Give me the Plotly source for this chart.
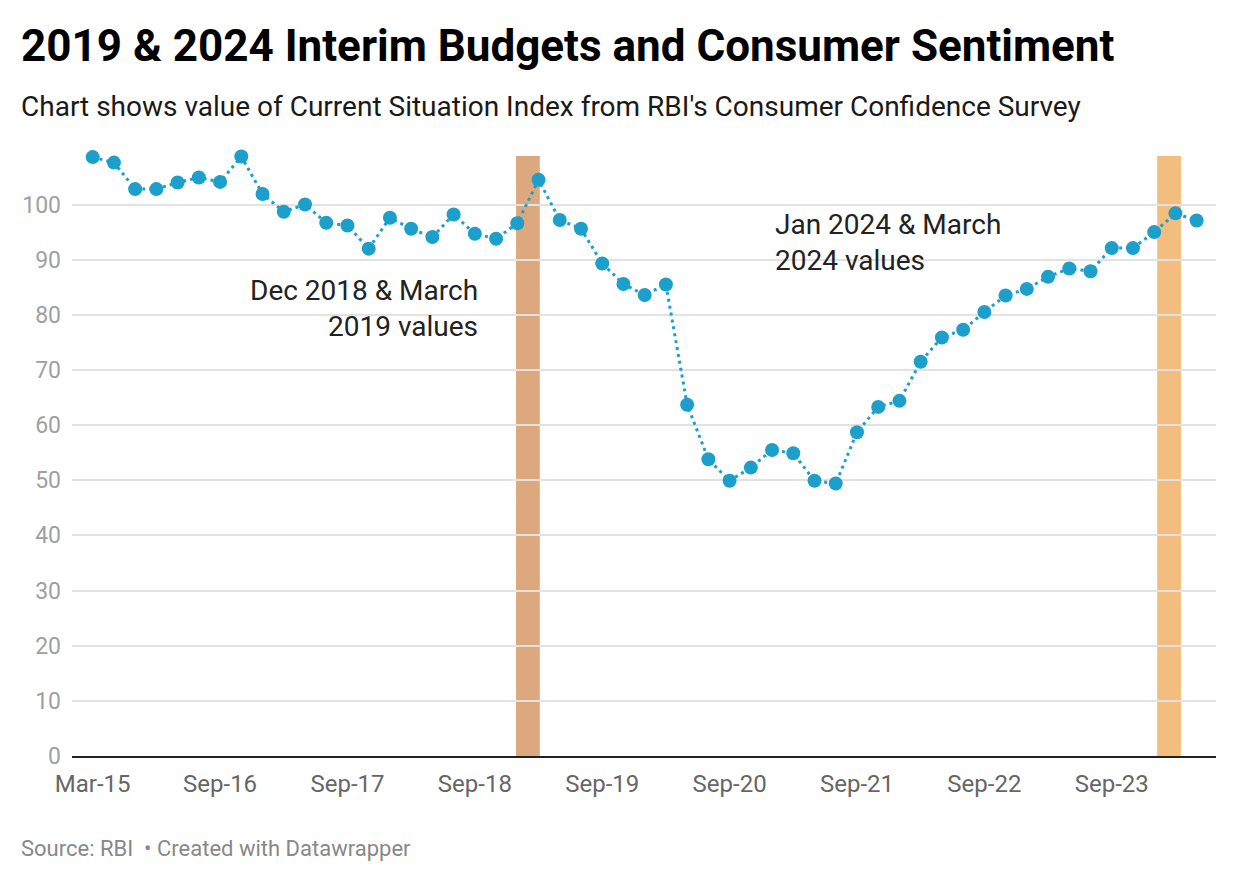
import plotly.graph_objects as go

# Survey rounds (RBI Consumer Confidence Survey)
periods = [
    "Mar-15", "Jun-15", "Sep-15", "Dec-15", "Mar-16", "Jun-16", "Sep-16",
    "Nov-16", "Jan-17", "Mar-17", "May-17", "Jul-17", "Sep-17",
    "Nov-17", "Jan-18", "Mar-18", "May-18", "Jul-18", "Sep-18",
    "Nov-18", "Dec-18", "Mar-19", "May-19", "Jul-19", "Sep-19",
    "Nov-19", "Jan-20", "Mar-20", "May-20", "Jul-20", "Sep-20",
    "Nov-20", "Jan-21", "Mar-21", "May-21", "Jul-21", "Sep-21",
    "Nov-21", "Jan-22", "Mar-22", "May-22", "Jul-22", "Sep-22",
    "Nov-22", "Jan-23", "Mar-23", "May-23", "Jul-23", "Sep-23",
    "Nov-23", "Jan-24", "Mar-24", "May-24",
]

# Current Situation Index values
csi = [
    108.6, 107.6, 102.8, 102.8, 104.0, 104.9, 104.1,
    108.7, 101.9, 98.7, 100.0, 96.7, 96.2,
    92.0, 97.6, 95.6, 94.1, 98.2, 94.7,
    93.8, 96.6, 104.5, 97.2, 95.6, 89.3,
    85.6, 83.6, 85.5, 63.7, 53.8, 49.9,
    52.3, 55.5, 54.9, 49.9, 49.4, 58.7,
    63.3, 64.4, 71.5, 75.9, 77.3, 80.5,
    83.5, 84.7, 86.9, 88.4, 87.9, 92.1,
    92.1, 95.0, 98.4, 97.1,
]

tick_labels = ["Mar-15", "Sep-16", "Sep-17", "Sep-18", "Sep-19",
               "Sep-20", "Sep-21", "Sep-22", "Sep-23"]
y_ticks = [0, 10, 20, 30, 40, 50, 60, 70, 80, 90, 100]

highlights = [("Dec-18", "Mar-19"), ("Jan-24", "Mar-24")]
highlight_colors = ["#dba97d", "#f3bd80"]
highlight_shift = [0.0, 0.2]

notes = [
    ("Dec 2018 & March<br>2019 values", 18.24, 81.1, "right"),
    ("Jan 2024 & March<br>2024 values", 32.05, 93.1, "left"),
]

title = "2019 & 2024 Interim Budgets and Consumer Sentiment"
subtitle = "Chart shows value of Current Situation Index from RBI's Consumer Confidence Survey"
footer = "Source: RBI  \u2022 Created with Datawrapper"

FONT = "Roboto"
BLUE = "#1c9fcb"

xs = list(range(len(periods)))
tickvals = [periods.index(t) for t in tick_labels]

fig = go.Figure()
fig.add_trace(go.Scatter(
    x=xs, y=csi, mode="lines+markers",
    line=dict(color=BLUE, width=3, dash="3px,4px"),
    marker=dict(color=BLUE, size=14),
    cliponaxis=False,
    hoverinfo="x+y", showlegend=False,
))

shapes = []
for (a, b), col, sh in zip(highlights, highlight_colors, highlight_shift):
    ia, ib = periods.index(a), periods.index(b)
    c = (ia + ib) / 2 + sh
    shapes.append(dict(type="rect", xref="x", yref="paper",
                       x0=c - 0.56, x1=c + 0.56, y0=0, y1=1,
                       fillcolor=col, line=dict(width=0), layer="below"))

annotations = []
for text, xv, yv, side in notes:
    annotations.append(dict(
        text=text, x=xv, y=yv, xref="x", yref="y",
        xanchor=side, yanchor="middle", align=side, showarrow=False,
        font=dict(family=FONT, size=28, color="#222222")))

W, H = 1240, 882
L, R, T, B = 72, 24, 156, 126
pw, ph = W - L - R, H - T - B

def px(xp):
    return (xp - L) / pw

def py(yp):
    return (H - B - yp) / ph

annotations.append(dict(text="<b>" + title + "</b>", x=px(19), y=py(46),
                        xref="paper", yref="paper", xanchor="left", yanchor="middle",
                        showarrow=False, font=dict(family=FONT, size=44, color="#000000")))
annotations.append(dict(text=subtitle, x=px(19), y=py(106),
                        xref="paper", yref="paper", xanchor="left", yanchor="middle",
                        showarrow=False, font=dict(family=FONT, size=28, color="#1a1a1a")))
annotations.append(dict(text=footer, x=px(19), y=py(848),
                        xref="paper", yref="paper", xanchor="left", yanchor="middle",
                        showarrow=False, font=dict(family=FONT, size=22, color="#888888")))

x0_idx = (72 - 92.7) / 21.23
x1_idx = (1216 - 92.7) / 21.23

fig.update_layout(
    width=W, height=H,
    margin=dict(l=L, r=R, t=T, b=B, pad=0),
    paper_bgcolor="white", plot_bgcolor="rgba(0,0,0,0)",
    shapes=shapes, annotations=annotations,
    font=dict(family=FONT),
    xaxis=dict(range=[x0_idx, x1_idx], tickmode="array", tickvals=tickvals,
               ticktext=tick_labels, showgrid=False, zeroline=False,
               showline=True, linecolor="#222222", linewidth=2,
               ticks="", tickfont=dict(family=FONT, size=24, color="#666666"),
               ticklabelstandoff=5),
    yaxis=dict(range=[0, 108.8], tickmode="array", tickvals=y_ticks,
               showgrid=True, gridcolor="#e2e2e2", gridwidth=1.5,
               zeroline=False, showline=False, ticks="",
               tickfont=dict(family=FONT, size=23, color="#a0a0a0"),
               ticklabelstandoff=10),
    hovermode="closest",
)

fig.write_html("out.html")
